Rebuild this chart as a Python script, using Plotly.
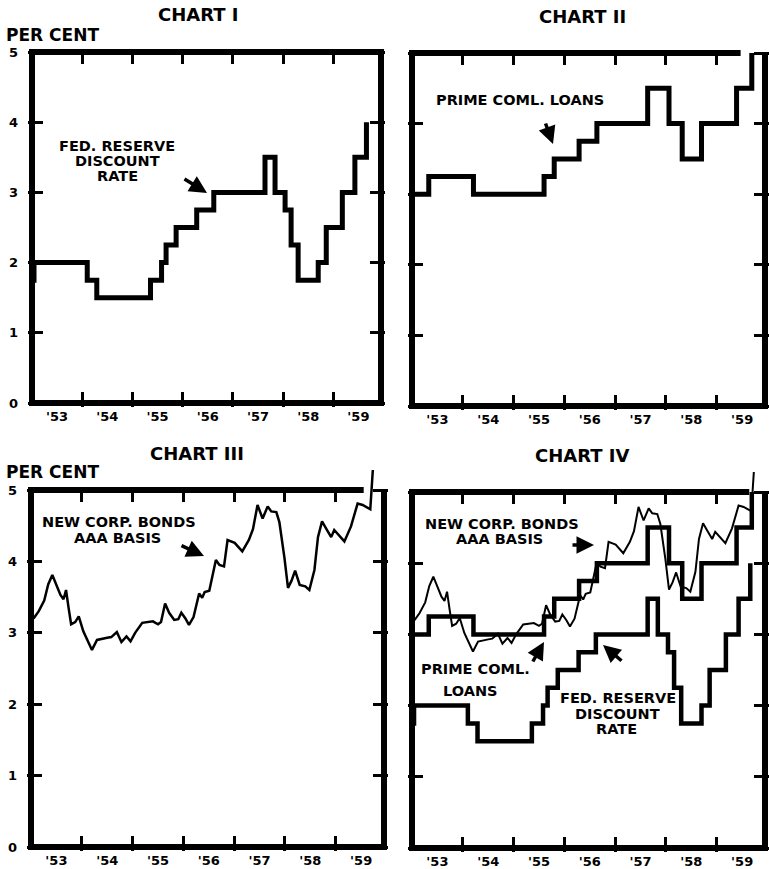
import plotly.graph_objects as go

# ---------------- data ----------------
disc_x = [1953.0, 1953.04, 1954.10, 1954.29, 1955.36, 1955.58, 1955.67, 1955.87,
          1956.28, 1956.62, 1957.64, 1957.84, 1958.04, 1958.16, 1958.30, 1958.70,
          1958.86, 1959.18, 1959.43, 1959.66]
disc_y = [1.75, 2.0, 1.75, 1.5, 1.75, 2.0, 2.25, 2.5,
          2.75, 3.0, 3.5, 3.0, 2.75, 2.25, 1.75, 2.0,
          2.5, 3.0, 3.5, 4.0]

prime_x = [1953.0, 1953.33, 1954.21, 1955.60, 1955.80, 1956.29, 1956.64,
           1957.64, 1958.06, 1958.32, 1958.70, 1959.39, 1959.69]
prime_y = [3.0, 3.25, 3.0, 3.25, 3.5, 3.75, 4.0,
           4.5, 4.0, 3.5, 4.0, 4.5, 5.0]

bond_x = [1953.05, 1953.15, 1953.26, 1953.34, 1953.42, 1953.50, 1953.58, 1953.64,
          1953.69, 1953.74, 1953.79, 1953.87, 1953.94, 1954.03, 1954.12, 1954.20,
          1954.30, 1954.40, 1954.50, 1954.58, 1954.69, 1954.78, 1954.88, 1954.96,
          1955.05, 1955.19, 1955.30, 1955.40, 1955.50, 1955.56, 1955.64, 1955.72,
          1955.82, 1955.90, 1955.96, 1956.04, 1956.11, 1956.20, 1956.31, 1956.37,
          1956.42, 1956.51, 1956.64, 1956.71, 1956.80, 1956.87, 1957.01, 1957.16,
          1957.29, 1957.37, 1957.46, 1957.56, 1957.66, 1957.73, 1957.83, 1957.89,
          1957.99, 1958.06, 1958.13, 1958.20, 1958.29, 1958.40, 1958.48, 1958.58,
          1958.65, 1958.73, 1958.82, 1958.91, 1958.97, 1959.07, 1959.17, 1959.30,
          1959.43, 1959.53, 1959.68, 1959.73]
bond_y = [3.20, 3.30, 3.45, 3.68, 3.81, 3.68, 3.53, 3.47,
          3.60, 3.35, 3.12, 3.15, 3.23, 3.02, 2.88, 2.76,
          2.90, 2.92, 2.93, 2.94, 3.01, 2.87, 2.95, 2.88,
          3.00, 3.14, 3.15, 3.16, 3.12, 3.15, 3.41, 3.28,
          3.18, 3.19, 3.28, 3.20, 3.11, 3.22, 3.55, 3.49,
          3.57, 3.59, 4.02, 3.95, 3.93, 4.30, 4.26, 4.14,
          4.30, 4.45, 4.79, 4.60, 4.77, 4.70, 4.69, 4.55,
          4.05, 3.63, 3.73, 3.87, 3.67, 3.65, 3.60, 3.88,
          4.34, 4.56, 4.45, 4.34, 4.44, 4.36, 4.28, 4.49,
          4.81, 4.79, 4.73, 5.28]

year_ticks = [1954, 1955, 1956, 1957, 1958, 1959]
label_pos = [1953.5, 1954.5, 1955.5, 1956.5, 1957.5, 1958.5, 1959.5]
year_labels = ["'53", "'54", "'55", "'56", "'57", "'58", "'59"]
y_ticks = [0, 1, 2, 3, 4, 5]
y_labels = ["0", "1", "2", "3", "4", "5"]
titles = ["CHART I", "CHART II", "CHART III", "CHART IV"]

# ---------------- layout geometry ----------------
W, H = 769, 869
X0, X1 = 1953.0, 1959.95
PAD = 4
TOPEXT = 30
FONT = "DejaVu Sans"

panels = [
    dict(L=32, R=381, T=52, B=403, gap=None, ylab=True),
    dict(L=412, R=765, T=53, B=406, gap=1959.47, ylab=False),
    dict(L=31, R=384, T=490, B=847, gap=1959.55, ylab=True),
    dict(L=412, R=765, T=492, B=848, gap=1959.64, ylab=False),
]

fig = go.Figure()

def ax_name(kind, i):
    return kind if i == 1 else f"{kind}{i}"

shapes = []
layout = {}
for idx, p in enumerate(panels):
    i = idx + 1
    sx = (p["R"] - p["L"]) / (X1 - X0)
    sy = (p["B"] - p["T"]) / 5.0
    padr = min(PAD, W - p["R"])
    xr = [X0 - PAD / sx, X1 + padr / sx]
    yr = [-PAD / sy, 5 + TOPEXT / sy]
    xdom = [(p["L"] - PAD) / W, min(1.0, (p["R"] + padr) / W)]
    ydom = [1 - (p["B"] + PAD) / H, 1 - (p["T"] - TOPEXT) / H]
    xa, ya = ax_name("xaxis", i), ax_name("yaxis", i)
    xs, ys = ax_name("x", i), ax_name("y", i)
    layout[xa] = dict(
        domain=xdom, range=xr, anchor=ys, showgrid=False, zeroline=False,
        showline=False, tickmode="array", tickvals=label_pos, ticktext=year_labels,
        ticks="", tickfont=dict(family=FONT, size=13, color="black", weight="bold"),
        minor=dict(tickmode="array", tickvals=year_ticks, ticks="inside",
                   ticklen=PAD + 3 + 8, tickwidth=3, tickcolor="black", showgrid=False),
        automargin=False, fixedrange=True,
    )
    layout[ya] = dict(
        domain=ydom, range=yr, anchor=xs, showgrid=False, zeroline=False,
        showline=False, tickmode="array", tickvals=y_ticks, ticktext=y_labels,
        ticks="inside", ticklen=PAD + 3 + 8, tickwidth=3, tickcolor="black",
        mirror="ticks", showticklabels=p["ylab"], ticklabelstandoff=9,
        tickfont=dict(family=FONT, size=13, color="black", weight="bold"),
        automargin=False, fixedrange=True,
    )
    ta = f"xaxis{4 + i}"
    layout[ta] = dict(
        overlaying=xs, anchor="free", position=1 - p["T"] / H, side="top",
        range=xr, showgrid=False, zeroline=False, showline=False,
        tickmode="array", tickvals=year_ticks, ticks="inside", ticklen=3 + 8,
        tickwidth=3, tickcolor="black", showticklabels=False,
        automargin=False, fixedrange=True,
    )
    if p["gap"] is None:
        path = f"M {X0},0 L {X1},0 L {X1},5 L {X0},5 Z"
    else:
        path = f"M {p['gap']},5 L {X0},5 L {X0},0 L {X1},0 L {X1},5"
    shapes.append(dict(type="path", path=path, xref=xs, yref=ys,
                       line=dict(color="black", width=6), layer="above"))
    fig.add_trace(go.Scatter(x=[None], y=[None], xaxis=f"x{4 + i}", yaxis=ys,
                             showlegend=False, hoverinfo="skip"))

step = dict(color="black", shape="hv")
fig.add_trace(go.Scatter(x=disc_x, y=disc_y, mode="lines", xaxis="x", yaxis="y",
                         line=dict(width=5, **step), showlegend=False))
fig.add_trace(go.Scatter(x=prime_x, y=prime_y, mode="lines", xaxis="x2", yaxis="y2",
                         line=dict(width=5, **step), showlegend=False))
fig.add_trace(go.Scatter(x=bond_x, y=bond_y, mode="lines", xaxis="x3", yaxis="y3",
                         line=dict(width=2.5, color="black"), showlegend=False))
fig.add_trace(go.Scatter(x=prime_x, y=prime_y, mode="lines", xaxis="x4", yaxis="y4",
                         line=dict(width=4.5, **step), showlegend=False))
fig.add_trace(go.Scatter(x=disc_x, y=disc_y, mode="lines", xaxis="x4", yaxis="y4",
                         line=dict(width=4.5, **step), showlegend=False))
fig.add_trace(go.Scatter(x=bond_x, y=bond_y, mode="lines", xaxis="x4", yaxis="y4",
                         line=dict(width=2, color="black"), showlegend=False))

# ---------------- text ----------------
def P(px, py):
    return px / W, 1 - py / H

ann = []
def text(s, px, py, size=14.5, xanchor="center"):
    x, y = P(px, py)
    ann.append(dict(text=s, x=x, y=y, xref="paper", yref="paper", showarrow=False,
                    xanchor=xanchor, yanchor="middle",
                    font=dict(family=FONT, size=size, color="black", weight="bold")))

def arrow(tail, tip):
    x, y = P(*tip)
    ann.append(dict(text="", x=x, y=y, xref="paper", yref="paper", showarrow=True,
                    ax=tail[0] - tip[0], ay=tail[1] - tip[1], arrowhead=2,
                    arrowsize=1, arrowwidth=3.5, arrowcolor="black"))

text(titles[0], 198, 15, 18)
text(titles[1], 582, 17, 18)
text(titles[2], 197, 453, 18)
text(titles[3], 582, 455, 18)
text("PER CENT", 4, 35, 17, "left")
text("PER CENT", 4, 472, 17, "left")

text("FED. RESERVE", 117, 146)
text("DISCOUNT", 117, 161)
text("RATE", 117, 176)
arrow((183, 178), (207, 193))
text("PRIME COML. LOANS", 520, 100)
arrow((545, 122), (553, 144))
text("NEW CORP. BONDS", 119, 522)
text("AAA BASIS", 117, 538)
arrow((180, 545), (204, 556))
text("NEW CORP. BONDS", 502, 524)
text("AAA BASIS", 499, 539)
arrow((571, 545), (594, 545))
text("PRIME COML.", 475, 669)
text("LOANS", 470, 691)
arrow((532, 663), (544, 642))
text("FED. RESERVE", 618, 698)
text("DISCOUNT", 617, 714)
text("RATE", 616, 729)
arrow((623, 662), (603, 645))

fig.update_layout(
    template="none",
    width=W, height=H, margin=dict(l=0, r=0, t=0, b=0, autoexpand=False),
    paper_bgcolor="white", plot_bgcolor="white",
    showlegend=False, shapes=shapes, annotations=ann, **layout,
)

fig.write_html("out.html", config={"displayModeBar": False},
               post_script="document.body.style.margin='0px';document.body.style.overflow='hidden';")
